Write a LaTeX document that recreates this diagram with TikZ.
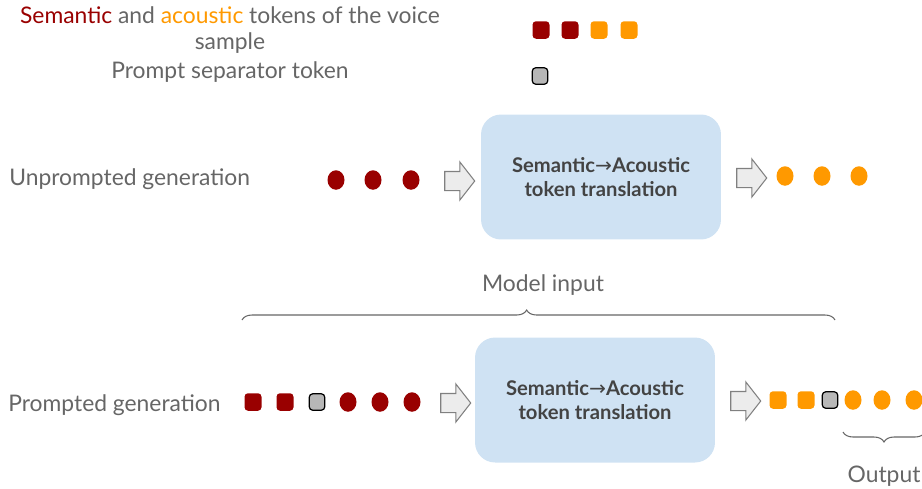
\documentclass[tikz,border=0pt]{standalone}
\usepackage{fontspec}
\setmainfont{Lato}
\newfontfamily\symfont{DejaVu Sans}
\usetikzlibrary{shapes.geometric, shapes.arrows, decorations.pathreplacing}

\definecolor{semred}{HTML}{990000}
\definecolor{acorange}{HTML}{FF9900}
\definecolor{sepgray}{HTML}{B7B7B7}
\definecolor{boxblue}{HTML}{CFE2F3}
\definecolor{labelgray}{HTML}{666666}
\definecolor{boxtext}{HTML}{434343}

\begin{document}
\begin{tikzpicture}[
    x=0.02cm, y=-0.02cm,
    label/.style={text=labelgray, font=\fontsize{13}{15}\selectfont, inner sep=0},
    sqtok/.style={rectangle, rounded corners=2pt, minimum width=0.34cm, minimum height=0.35cm, inner sep=0},
    semsq/.style={sqtok, fill=semred},
    acsq/.style={sqtok, fill=acorange},
    sepsq/.style={sqtok, fill=sepgray, draw=black, line width=0.7pt, minimum width=0.31cm, minimum height=0.33cm},
    dottok/.style={ellipse, minimum width=0.34cm, minimum height=0.39cm, inner sep=0},
    semdot/.style={dottok, fill=semred},
    acdot/.style={dottok, fill=acorange},
    blockarrow/.style={single arrow, draw=gray, fill=gray!15, line width=0.6pt,
        inner sep=0, text height=0.36cm, text depth=0, text width=0,
        single arrow head extend=0.19cm, single arrow tip angle=104, minimum height=0.6cm},
    transbox/.style={rectangle, rounded corners=0.4cm, fill=boxblue, minimum width=4.8cm,
        minimum height=2.5cm, align=center, text=boxtext, font=\bfseries\fontsize{11.5}{14}\selectfont},
    curly/.style={draw=labelgray, line width=0.6pt, decorate,
        decoration={brace, amplitude=0.2cm}}
]

\useasboundingbox (0,0) rectangle (922,488);

% --- Legend ---
\node[label, align=center] (legtok) at (230,30)
    {\textcolor{semred}{Semantic} and \textcolor{acorange}{acoustic} tokens of the voice\\ sample};
\node[label] (legsep) at (230,72) {Prompt separator token};

\node[semsq] (ls1) at (541,30) {};
\node[semsq] (ls2) at (570,30) {};
\node[acsq]  (la1) at (599,30) {};
\node[acsq]  (la2) at (629,30) {};
\node[sepsq] (lsep) at (540,76) {};

% --- Unprompted generation ---
\node[label, anchor=west] (unp) at (9,179) {Unprompted generation};

\foreach \i/\x in {1/336, 2/373, 3/411}
    \node[semdot] (us\i) at (\x,180) {};

\node[blockarrow] (uin) at (456,181) {};
\node[transbox] (ubox) at (601,177) {Semantic{\symfont\mdseries →}Acoustic\\token translation};
\node[blockarrow] (uout) at (748,178) {};

\foreach \i/\x in {1/785, 2/822, 3/859}
    \node[acdot] (ua\i) at (\x,176) {};

% --- Model input brace ---
\coordinate (minl) at (242,320);
\coordinate (minr) at (835,320);
\draw[curly, decoration={aspect=0.48}] (minl) -- (minr);
\node[label] (minput) at (543,285) {Model input};

% --- Prompted generation ---
\node[label, anchor=west] (pro) at (8,405) {Prompted generation};

\node[semsq] (ps1) at (253,402) {};
\node[semsq] (ps2) at (285,402) {};
\node[sepsq] (psep) at (317,402) {};
\foreach \i/\x in {1/348, 2/380, 3/412}
    \node[semdot] (ps\i d) at (\x,402) {};

\node[blockarrow] (pin) at (452,403) {};
\node[transbox] (pbox) at (595,400) {Semantic{\symfont\mdseries →}Acoustic\\token translation};
\node[blockarrow] (pout) at (742,401) {};

\node[acsq]  (pa1) at (778,400) {};
\node[acsq]  (pa2) at (806,400) {};
\node[sepsq] (pasep) at (830,400) {};
\foreach \i/\x in {1/853, 2/882, 3/914}
    \node[acdot] (pa\i d) at (\x,400) {};

% --- Output brace ---
\coordinate (outr) at (925,432);
\coordinate (outl) at (843,432);
\draw[curly, decoration={aspect=0.5}] (outr) -- (outl);
\node[label] (outp) at (884,476) {Output};

\end{tikzpicture}
\end{document}
